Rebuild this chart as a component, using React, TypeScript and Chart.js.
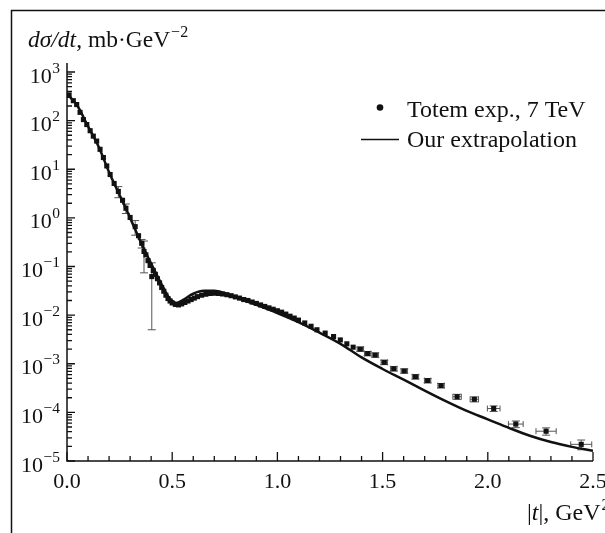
import React, { useEffect, useRef } from "react";
import { Chart, registerables } from "chart.js";

Chart.register(...registerables);

// Model curve ("Our extrapolation")
const modelT = [0, 0.05, 0.1, 0.15, 0.2, 0.25, 0.3, 0.35, 0.4, 0.45, 0.48, 0.5, 0.52, 0.55, 0.6, 0.65, 0.7, 0.75, 0.8, 0.9, 1.0, 1.1, 1.2, 1.3, 1.4, 1.5, 1.6, 1.7, 1.8, 1.9, 2.0, 2.1, 2.2, 2.3, 2.4, 2.5];
const modelV = [355, 200, 76, 29.5, 8.7, 2.95, 1.0, 0.32, 0.115, 0.0427, 0.0245, 0.0195, 0.0178, 0.0204, 0.0275, 0.0316, 0.0316, 0.0282, 0.0234, 0.0162, 0.011, 0.0072, 0.00437, 0.00257, 0.00135, 7.8e-4, 4.7e-4, 2.8e-4, 1.7e-4, 1.07e-4, 7.2e-5, 4.8e-5, 3.3e-5, 2.45e-5, 1.95e-5, 1.62e-5];

// TOTEM data, 7 TeV
const dataT = [0.01, 0.03, 0.046, 0.062, 0.078, 0.094, 0.11, 0.125, 0.141, 0.157, 0.173, 0.189, 0.205, 0.224, 0.244, 0.264, 0.28, 0.3, 0.324, 0.34, 0.355, 0.366, 0.375, 0.385, 0.395, 0.403, 0.41, 0.42, 0.43, 0.44, 0.45, 0.46, 0.47, 0.48, 0.49, 0.5, 0.515, 0.53, 0.545, 0.56, 0.575, 0.59, 0.605, 0.62, 0.64, 0.66, 0.68, 0.7, 0.72, 0.74, 0.76, 0.78, 0.8, 0.82, 0.84, 0.86, 0.88, 0.9, 0.92, 0.94, 0.96, 0.98, 1.0, 1.02, 1.04, 1.06, 1.08, 1.1, 1.13, 1.16, 1.188, 1.227, 1.267, 1.299, 1.33, 1.36, 1.394, 1.429, 1.465, 1.508, 1.553, 1.603, 1.656, 1.714, 1.778, 1.854, 1.936, 2.028, 2.133, 2.277, 2.444];
const dataV = [339, 257, 214, 148, 105, 83, 62, 48, 38, 25.7, 17.4, 11.7, 7.8, 5.1, 3.5, 2.3, 1.58, 1.02, 0.66, 0.43, 0.3, 0.204, 0.174, 0.132, 0.105, 0.062, 0.083, 0.069, 0.056, 0.046, 0.037, 0.031, 0.0257, 0.0219, 0.0195, 0.0178, 0.0166, 0.0162, 0.017, 0.0182, 0.0195, 0.0209, 0.0224, 0.024, 0.0257, 0.0269, 0.0279, 0.0282, 0.0279, 0.0272, 0.0263, 0.0251, 0.0237, 0.0224, 0.0209, 0.02, 0.0186, 0.0174, 0.0162, 0.0151, 0.0141, 0.0132, 0.0123, 0.0115, 0.0105, 0.0095, 0.0087, 0.0079, 0.0069, 0.0059, 0.005, 0.00427, 0.00363, 0.00309, 0.00257, 0.00219, 0.002, 0.00162, 0.00151, 0.00107, 7.9e-4, 7.1e-4, 5.4e-4, 4.5e-4, 3.55e-4, 2.1e-4, 1.86e-4, 1.2e-4, 5.75e-5, 4.1e-5, 2.2e-5];

// Error bars (points that show them)
const errT = [0.244, 0.28, 0.324, 0.355, 0.366, 0.403, 1.394, 1.429, 1.465, 1.508, 1.553, 1.603, 1.656, 1.714, 1.778, 1.854, 1.936, 2.028, 2.133, 2.277, 2.444];
const errY = [0.9, 0.35, 0.22, 0.06, 0.13, 0.057, 2e-4, 1.6e-4, 1.5e-4, 1.1e-4, 8e-5, 7e-5, 5.5e-5, 4.5e-5, 3.6e-5, 2.5e-5, 2.2e-5, 1.6e-5, 9e-6, 7e-6, 5e-6];
const errX = [0, 0, 0, 0, 0, 0, 0.015, 0.015, 0.015, 0.015, 0.015, 0.015, 0.015, 0.015, 0.015, 0.02, 0.02, 0.03, 0.035, 0.048, 0.05];

const yExponents = [3, 2, 1, 0, -1, -2, -3, -4, -5];
const xTickValues = [0, 0.5, 1.0, 1.5, 2.0, 2.5];
const xTickLabels = ["0.0", "0.5", "1.0", "1.5", "2.0", "2.5"];

const legendLabels = ["Totem exp., 7 TeV", "Our extrapolation"];

const SERIF = "'Liberation Serif', 'Times New Roman', serif";

const decoPlugin = {
  id: "deco",
  beforeDatasetsDraw(chart: any) {
    const ctx = chart.ctx;
    const xs = chart.scales.x;
    const ys = chart.scales.y;
    ctx.save();
    ctx.strokeStyle = "#555";
    ctx.lineWidth = 1;
    for (let k = 0; k < errT.length; k++) {
      const i = dataT.indexOf(errT[k]);
      if (i < 0) continue;
      const v = dataV[i];
      const px = xs.getPixelForValue(errT[k]);
      const py = ys.getPixelForValue(v);
      if (errY[k] > 0) {
        const lo = Math.max(v - errY[k], 1e-6);
        const pTop = ys.getPixelForValue(v + errY[k]);
        const pBot = ys.getPixelForValue(lo);
        ctx.beginPath();
        ctx.moveTo(px, pTop);
        ctx.lineTo(px, pBot);
        ctx.moveTo(px - 4, pTop);
        ctx.lineTo(px + 4, pTop);
        ctx.moveTo(px - 4, pBot);
        ctx.lineTo(px + 4, pBot);
        ctx.stroke();
      }
      if (errX[k] > 0) {
        const pl = xs.getPixelForValue(errT[k] - errX[k]);
        const pr = xs.getPixelForValue(errT[k] + errX[k]);
        ctx.beginPath();
        ctx.moveTo(pl, py);
        ctx.lineTo(pr, py);
        ctx.moveTo(pl, py - 3);
        ctx.lineTo(pl, py + 3);
        ctx.moveTo(pr, py - 3);
        ctx.lineTo(pr, py + 3);
        ctx.stroke();
      }
    }
    ctx.restore();
  },
  afterDraw(chart: any) {
    const ctx = chart.ctx;
    const xs = chart.scales.x;
    const ys = chart.scales.y;
    const area = chart.chartArea;
    ctx.save();
    ctx.strokeStyle = "#111";
    ctx.fillStyle = "#111";

    // outer frame
    ctx.lineWidth = 1.5;
    ctx.beginPath();
    ctx.moveTo(11.5, 533);
    ctx.lineTo(11.5, 10.5);
    ctx.lineTo(605, 10.5);
    ctx.stroke();

    // axes lines
    ctx.lineWidth = 1.5;
    ctx.beginPath();
    ctx.moveTo(area.left, area.top - 9);
    ctx.lineTo(area.left, area.bottom);
    ctx.lineTo(area.right, area.bottom);
    ctx.stroke();

    // y ticks
    ctx.lineWidth = 1.3;
    ctx.beginPath();
    for (const e of yExponents) {
      const py = ys.getPixelForValue(Math.pow(10, e));
      ctx.moveTo(area.left, py);
      ctx.lineTo(area.left + 8, py);
      if (e < 3) {
        for (let m = 2; m <= 9; m++) {
          const pm = ys.getPixelForValue(m * Math.pow(10, e));
          ctx.moveTo(area.left, pm);
          ctx.lineTo(area.left + 5, pm);
        }
      }
    }
    // x ticks
    for (let i = 0; i <= 25; i++) {
      const px = xs.getPixelForValue(i / 10);
      const len = i % 5 === 0 ? 9 : 5;
      ctx.moveTo(px, area.bottom);
      ctx.lineTo(px, area.bottom - len);
    }
    ctx.stroke();

    // y tick labels
    for (const e of yExponents) {
      const py = ys.getPixelForValue(Math.pow(10, e));
      const expStr = e < 0 ? "\u2212" + String(-e) : String(e);
      ctx.font = `15.5px ${SERIF}`;
      ctx.textAlign = "right";
      ctx.textBaseline = "alphabetic";
      const ew = ctx.measureText(expStr).width;
      ctx.fillText(expStr, 60, py + 0.5);
      ctx.font = `22px ${SERIF}`;
      ctx.fillText("10", 60 - ew - 0.5, py + 10.5);
    }

    // x tick labels
    ctx.font = `22px ${SERIF}`;
    ctx.textAlign = "center";
    for (let i = 0; i < xTickValues.length; i++) {
      const px = xs.getPixelForValue(xTickValues[i]);
      ctx.fillText(xTickLabels[i], px, 488);
    }

    // y axis title: dσ/dt, mb·GeV^-2
    ctx.textAlign = "left";
    let x = 28;
    const base = 47;
    ctx.font = `italic 23.5px ${SERIF}`;
    ctx.fillText("d\u03C3/dt", x, base);
    x += ctx.measureText("d\u03C3/dt").width;
    ctx.font = `23.5px ${SERIF}`;
    ctx.fillText(", mb\u00B7GeV", x, base);
    x += ctx.measureText(", mb\u00B7GeV").width;
    ctx.font = `16px ${SERIF}`;
    ctx.fillText("\u22122", x + 1, base - 10);

    // x axis title: |t|, GeV^2
    let x2 = 527;
    const base2 = 520;
    ctx.font = `24px ${SERIF}`;
    ctx.fillText("|", x2, base2);
    x2 += ctx.measureText("|").width;
    ctx.font = `italic 24px ${SERIF}`;
    ctx.fillText("t", x2, base2);
    x2 += ctx.measureText("t").width;
    ctx.font = `24px ${SERIF}`;
    ctx.fillText("|, GeV", x2, base2);
    x2 += ctx.measureText("|, GeV").width;
    ctx.font = `16px ${SERIF}`;
    ctx.fillText("2", x2 + 1, base2 - 10);

    // legend
    ctx.beginPath();
    ctx.arc(380, 107.5, 3.3, 0, Math.PI * 2);
    ctx.fill();
    ctx.font = `24px ${SERIF}`;
    ctx.fillText(legendLabels[0], 407, 116.5);
    ctx.lineWidth = 1.6;
    ctx.beginPath();
    ctx.moveTo(361, 139.5);
    ctx.lineTo(399, 139.5);
    ctx.stroke();
    ctx.fillText(legendLabels[1], 407, 146.5);

    ctx.restore();
  },
};

export default function App() {
  const ref = useRef<HTMLCanvasElement | null>(null);
  useEffect(() => {
    if (!ref.current) return;
    const chart = new Chart(ref.current, {
      type: "scatter",
      data: {
        datasets: [
          {
            type: "line",
            label: legendLabels[1],
            data: modelT.map((t, i) => ({ x: t, y: modelV[i] })),
            borderColor: "#111",
            borderWidth: 2.5,
            pointRadius: 0,
            fill: false,
            cubicInterpolationMode: "monotone",
            order: 1,
          } as any,
          {
            type: "scatter",
            label: legendLabels[0],
            data: dataT.map((t, i) => ({ x: t, y: dataV[i] })),
            backgroundColor: "#111",
            borderColor: "#111",
            borderWidth: 0,
            pointStyle: "rect",
            pointRadius: 3.6,
            order: 2,
          } as any,
        ],
      },
      options: {
        responsive: false,
        animation: false,
        devicePixelRatio: 1,
        layout: { padding: { left: 67, top: 72, right: 12, bottom: 72 } },
        plugins: { legend: { display: false }, tooltip: { enabled: false } },
        events: [],
        scales: {
          x: { type: "linear", min: 0, max: 2.5, display: false },
          y: { type: "logarithmic", min: 1e-5, max: 1e3, display: false },
        },
      },
      plugins: [decoPlugin],
    });
    return () => chart.destroy();
  }, []);
  return (
    <div style={{ position: "fixed", left: 0, top: 0, width: 605, height: 533, background: "#fff" }}>
      <canvas ref={ref} width={605} height={533} style={{ width: 605, height: 533, display: "block" }} />
    </div>
  );
}
